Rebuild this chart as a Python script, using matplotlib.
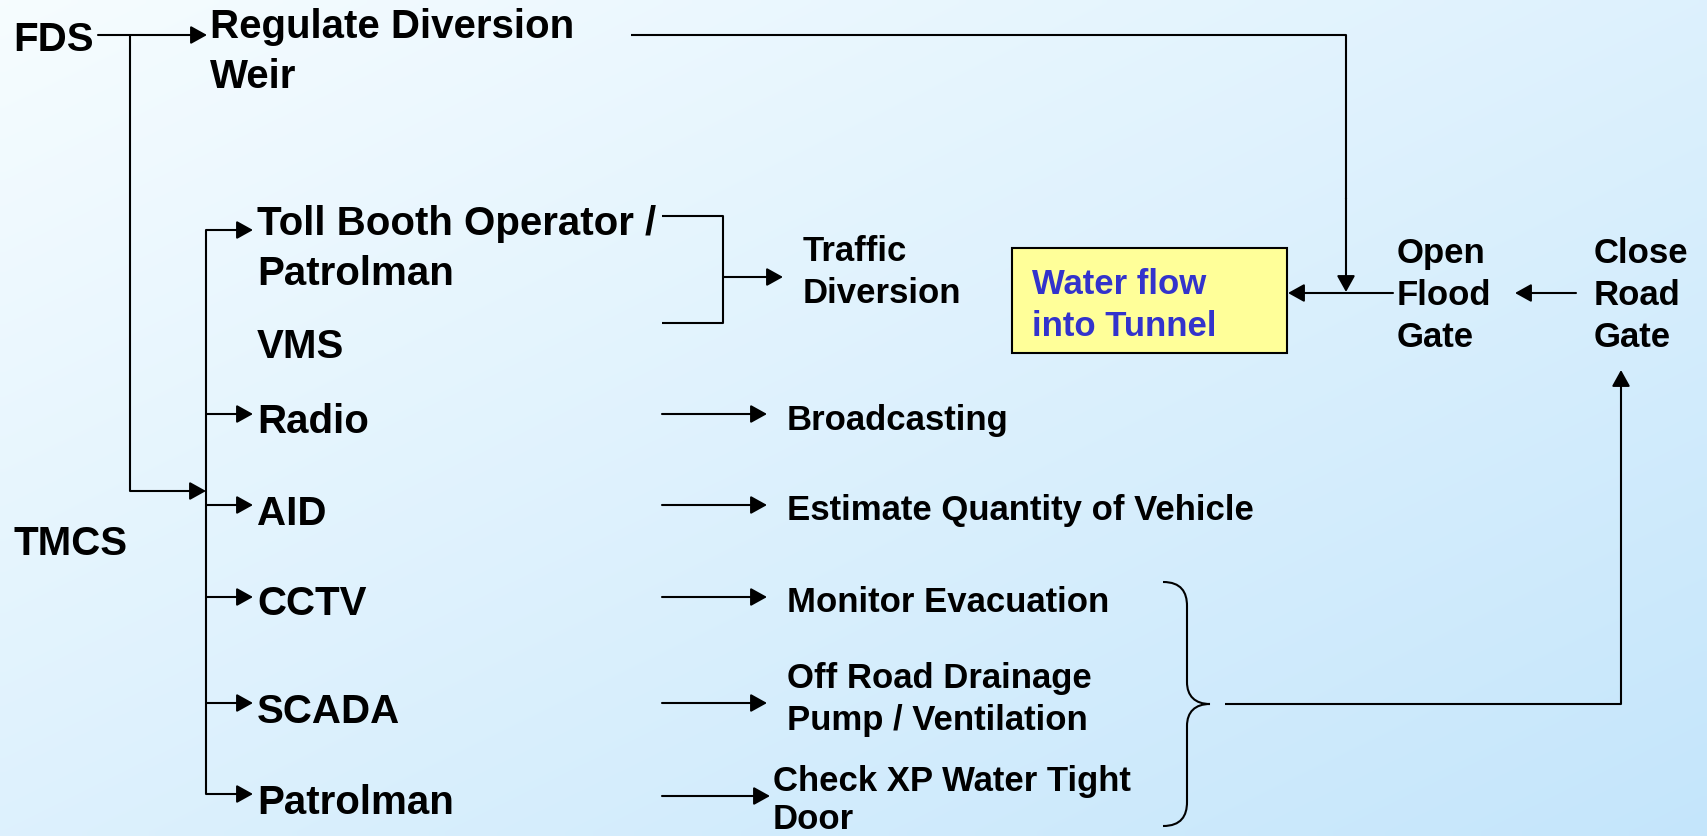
import matplotlib
matplotlib.use("Agg")
import matplotlib.pyplot as plt
from matplotlib.path import Path
from matplotlib.patches import PathPatch, Rectangle
import numpy as np

# labels of the diagram
source_labels = ["FDS", "TMCS"]
weir_label = "Regulate Diversion\nWeir"
tmcs_items = ["Toll Booth Operator /\nPatrolman", "VMS", "Radio", "AID",
              "CCTV", "SCADA", "Patrolman"]
actions = ["Traffic\nDiversion", "Broadcasting", "Estimate Quantity of Vehicle",
           "Monitor Evacuation", "Off Road Drainage\nPump / Ventilation",
           "Check XP Water Tight\nDoor"]
box_label = "Water flow\ninto Tunnel"
gate_labels = ["Open\nFlood\nGate", "Close\nRoad\nGate"]

# layout (pixels, y from the top)
W, H = 1707, 837
item_base = [235, 358, 433, 525, 615, 723, 814]
bus_arrow_y = [231, 415, 506, 598, 704, 795]
action_x = [803, 787, 787, 787, 787, 773]
action_base = [261, 430, 520, 612, 688, 791]
action_gap = [42, 42, 42, 42, 42, 38]
act_arrow_y = [415, 506, 598, 704, 797]

BIG = 29
SMALL = 25
FONT = "Liberation Sans"

fig = plt.figure(figsize=(W / 100, H / 100), dpi=100)
ax = fig.add_axes([0, 0, 1, 1])
ax.set_xlim(0, W)
ax.set_ylim(H, 0)
ax.axis("off")

# background gradient
gx, gy = np.meshgrid(np.linspace(0, 1, 200), np.linspace(0, 1, 100))
t = (gx + gy) / 2
c0 = np.array([0.965, 0.99, 1.0])
c1 = np.array([0.77, 0.90, 0.985])
img = c0[None, None, :] * (1 - t[..., None]) + c1[None, None, :] * t[..., None]
ax.imshow(img, extent=[0, W, H, 0], aspect="auto", interpolation="bilinear", zorder=0)


def label(x, y, text, size, gap, color="black"):
    for i, line in enumerate(text.split("\n")):
        ax.text(x, y + i * gap, line, fontsize=size, fontweight="bold",
                family=FONT, color=color, va="baseline", ha="left", zorder=3)


def line(xs, ys):
    ax.plot(xs, ys, color="black", lw=1.5, solid_capstyle="butt", zorder=2)


def arrow(x0, y0, x1, y1):
    ax.annotate("", xy=(x1, y1), xytext=(x0, y0),
                arrowprops=dict(arrowstyle="-|>,head_length=0.45,head_width=0.25",
                                color="black", lw=1.5,
                                mutation_scale=22, shrinkA=0, shrinkB=0),
                zorder=2)


# sources
label(13, 51, source_labels[0], BIG, 0)
label(13, 555, source_labels[1], BIG, 0)
label(210, 38, weir_label, BIG, 50)

arrow(98, 36, 207, 36)
line([130, 130], [36, 492])
arrow(130, 492, 206, 492)

# TMCS bus
line([206, 206], [231, 795])
for y in bus_arrow_y:
    arrow(206, y, 253, y)
for item, yb in zip(tmcs_items, item_base):
    label(257, yb, item, BIG, 50)

# traffic diversion fork
line([662, 723, 723, 662], [217, 217, 324, 324])
arrow(723, 278, 783, 278)

for x, yb, text, g in zip(action_x, action_base, actions, action_gap):
    label(x, yb, text, SMALL, g)
for i, y in enumerate(act_arrow_y):
    arrow(662, y, 767 if i < 4 else 770, y)

# brace
verts = [(1163, 583), (1181, 583), (1187, 593), (1187, 607),
         (1187, 683),
         (1187, 697), (1195, 705), (1210, 705),
         (1195, 705), (1187, 713), (1187, 727),
         (1187, 803),
         (1187, 817), (1181, 827), (1163, 827)]
codes = [Path.MOVETO, Path.CURVE4, Path.CURVE4, Path.CURVE4,
         Path.LINETO,
         Path.CURVE4, Path.CURVE4, Path.CURVE4,
         Path.CURVE4, Path.CURVE4, Path.CURVE4,
         Path.LINETO,
         Path.CURVE4, Path.CURVE4, Path.CURVE4]
ax.add_patch(PathPatch(Path(verts, codes), fill=False, lw=1.5, ec="black", zorder=2))

line([1225, 1621], [705, 705])
arrow(1621, 705, 1621, 371)

# water box
ax.add_patch(Rectangle((1012, 249), 275, 105, fc="#FFFF99", ec="black", lw=1.5, zorder=2))
label(1032, 294, box_label, SMALL, 42, color="#3333CC")

# gates
label(1397, 263, gate_labels[0], SMALL, 42)
label(1594, 263, gate_labels[1], SMALL, 42)
arrow(1393, 294, 1288, 294)
arrow(1576, 294, 1515, 294)

# weir to flood gate
line([631, 1346, 1346], [36, 36, 200])
arrow(1346, 199, 1346, 293)

fig.savefig("out.png", dpi=100)
